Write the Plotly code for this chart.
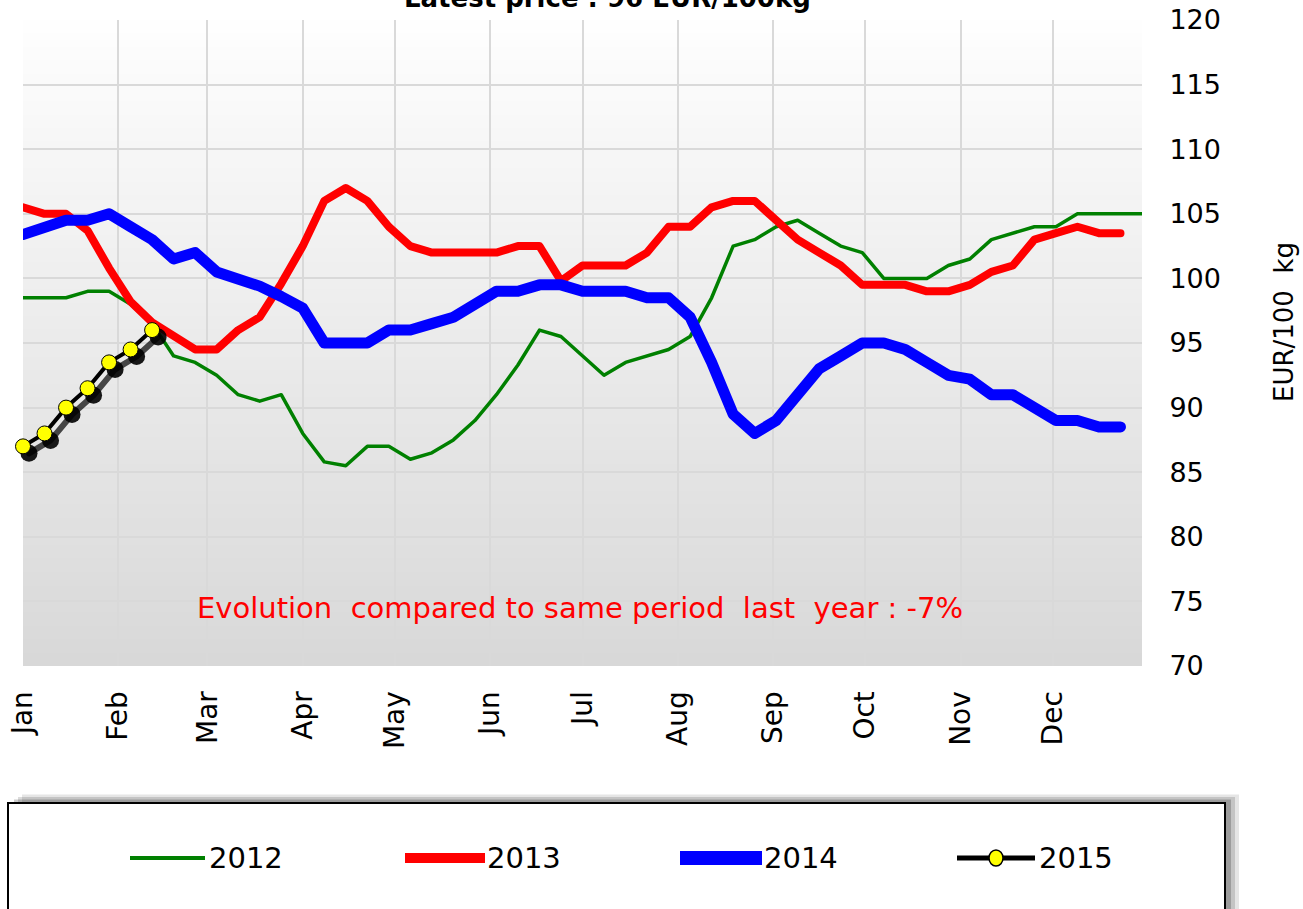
import plotly.graph_objects as go

# ---------------- data ----------------
v2012 = [98.5, 98.5, 98.5, 99, 99, 98, 96.5, 94, 93.5, 92.5, 91, 90.5, 91, 88, 85.8, 85.5, 87, 87, 86, 86.5,
         87.5, 89, 91, 93.3, 96, 95.5, 94, 92.5, 93.5, 94, 94.5, 95.5, 98.5, 102.5, 103, 104, 104.5, 103.5,
         102.5, 102, 100, 100, 100, 101, 101.5, 103, 103.5, 104, 104, 105, 105, 105, 105]
v2013 = [105.5, 105, 105, 103.7, 100.8, 98.2, 96.6, 95.5, 94.5, 94.5, 96, 97, 99.6, 102.5, 106, 107, 106, 104,
         102.5, 102, 102, 102, 102, 102.5, 102.5, 99.8, 101, 101, 101, 102, 104, 104, 105.5, 106, 106, 104.5,
         103, 102, 101, 99.5, 99.5, 99.5, 99, 99, 99.5, 100.5, 101, 103, 103.5, 104, 103.5, 103.5]
v2014 = [103.4, 104, 104.5, 104.5, 105, 104, 103, 101.5, 102, 100.5, 100, 99.4, 98.6, 97.7, 95, 95, 95, 96, 96,
         96.5, 97, 98, 99, 99, 99.5, 99.5, 99, 99, 99, 98.5, 98.5, 97, 93.5, 89.5, 88, 89, 91, 93, 94, 95, 95,
         94.5, 93.5, 92.5, 92.2, 91, 91, 90, 89, 89, 88.5, 88.5]
v2015 = [87, 88, 90, 91.5, 93.5, 94.5, 96]

month_labels = ["Jan", "Feb", "Mar", "Apr", "May", "Jun", "Jul", "Aug", "Sep", "Oct", "Nov", "Dec"]
month_days = [31, 29, 31, 30, 31, 30, 31, 31, 30, 31, 30, 31]
y_ticks = [70, 75, 80, 85, 90, 95, 100, 105, 110, 115, 120]

title_text = "Latest price : 96 EUR/100kg"
evolution_text = "Evolution  compared to same period  last  year : -7%"
y_title = "EUR/100  kg"
legend_names = ["2012", "2013", "2014", "2015"]

# month tick positions in weeks
month_ticks = []
acc = 0
for d in month_days:
    month_ticks.append(acc / 7.0)
    acc += d

FONT = "DejaVu Sans"
W, H = 1303, 909
ML, MR, MT, MB = 23, 161, 20, 243
PW = W - ML - MR
PH = H - MT - MB
XR = [0, 52]
YR = [70, 120]
pxx = PW / (XR[1] - XR[0])
pxy = PH / (YR[1] - YR[0])


def px2paper_x(px):
    return (px - ML) / PW


def px2paper_y(py):
    return (H - MB - py) / PH


fig = go.Figure()

fig.add_trace(go.Scatter(x=list(range(len(v2012))), y=v2012, mode="lines", name="2012",
                         line=dict(color="#008000", width=3.5), showlegend=False))
fig.add_trace(go.Scatter(x=list(range(len(v2013))), y=v2013, mode="lines", name="2013",
                         line=dict(color="#ff0000", width=8), showlegend=False))
fig.add_trace(go.Scatter(x=list(range(len(v2014))), y=v2014, mode="lines", name="2014",
                         line=dict(color="#0000ff", width=11), showlegend=False))
# shadow of 2015 (offset overlay axes)
fig.add_trace(go.Scatter(x=list(range(len(v2015))), y=v2015, mode="lines+markers", name="2015 shadow",
                         xaxis="x2", yaxis="y2", cliponaxis=False, hoverinfo="skip",
                         line=dict(color="rgba(0,0,0,0.7)", width=6),
                         marker=dict(size=17, color="rgba(0,0,0,0.9)", line=dict(width=0)),
                         showlegend=False))
fig.add_trace(go.Scatter(x=list(range(len(v2015))), y=v2015, mode="lines+markers", name="2015",
                         xaxis="x3", yaxis="y3", cliponaxis=False,
                         line=dict(color="#000000", width=4),
                         marker=dict(size=15, color="#ffff00", line=dict(color="#000000", width=1)),
                         showlegend=False))

shapes = []
# gradient background
N = 48
top = (254, 254, 254)
bot = (216, 216, 216)
for k in range(N):
    t = (k + 0.5) / N
    c = tuple(int(round(bot[j] + (top[j] - bot[j]) * t)) for j in range(3))
    shapes.append(dict(type="rect", xref="paper", yref="paper", x0=0, x1=1,
                       y0=k / N, y1=min(1, (k + 1) / N + 0.002),
                       fillcolor="rgb(%d,%d,%d)" % c, line=dict(width=0), layer="below"))

# legend box with shadow
lx0, lx1, ly0, ly1 = 8, 1225, 803, 920
for i, (off, op) in enumerate([(14, 0.10), (10, 0.14), (6, 0.20)]):
    shapes.append(dict(type="rect", xref="paper", yref="paper",
                       x0=px2paper_x(lx0 + off), x1=px2paper_x(lx1 + off),
                       y0=px2paper_y(ly0 - off * 0.6), y1=px2paper_y(ly1),
                       fillcolor="rgba(0,0,0,%.2f)" % op, line=dict(width=0), layer="above"))
shapes.append(dict(type="rect", xref="paper", yref="paper",
                   x0=px2paper_x(lx0), x1=px2paper_x(lx1), y0=px2paper_y(ly0), y1=px2paper_y(ly1),
                   fillcolor="white", line=dict(color="black", width=2), layer="above"))

ly = 858
leg_items = [
    (130, 205, "#008000", 4, 207),
    (405, 485, "#ff0000", 10, 485),
    (680, 762, "#0000ff", 14, 762),
    (957, 1035, "#000000", 5, 1037),
]
annotations = []
for (a, b, col, w, tx), name in zip(leg_items, legend_names):
    shapes.append(dict(type="line", xref="paper", yref="paper",
                       x0=px2paper_x(a), x1=px2paper_x(b), y0=px2paper_y(ly), y1=px2paper_y(ly),
                       line=dict(color=col, width=w), layer="above"))
    annotations.append(dict(text=name, xref="paper", yref="paper", x=px2paper_x(tx), y=px2paper_y(ly),
                            xanchor="left", yanchor="middle", showarrow=False,
                            font=dict(family=FONT, size=29, color="black")))
shapes.append(dict(type="circle", xref="paper", yref="paper",
                   x0=px2paper_x(989), x1=px2paper_x(1003), y0=px2paper_y(850), y1=px2paper_y(866),
                   fillcolor="#ffff00", line=dict(color="black", width=1.5), layer="above"))

annotations.append(dict(text="<b>%s</b>" % title_text, xref="paper", yref="paper",
                        x=px2paper_x(607), y=1, xanchor="center", yanchor="bottom", yshift=5,
                        showarrow=False, font=dict(family=FONT, size=26, color="black")))
annotations.append(dict(text=evolution_text.replace("  ", "\u00a0 "), xref="paper", yref="paper",
                        x=px2paper_x(580), y=px2paper_y(608), xanchor="center", yanchor="middle",
                        showarrow=False, font=dict(family=FONT, size=29, color="#ff0000")))
annotations.append(dict(text=y_title.replace("  ", "\u00a0 "), xref="paper", yref="paper",
                        x=px2paper_x(1284), y=px2paper_y(322), xanchor="center", yanchor="middle",
                        textangle=-90, showarrow=False, font=dict(family=FONT, size=26, color="black")))

grid = "#d9d9d9"
fig.update_layout(
    width=W, height=H,
    margin=dict(l=ML, r=MR, t=MT, b=MB, pad=0, autoexpand=False),
    paper_bgcolor="white", plot_bgcolor="rgba(0,0,0,0)",
    showlegend=False,
    shapes=shapes, annotations=annotations,
    font=dict(family=FONT, color="black"),
    xaxis=dict(range=XR, tickmode="array", tickvals=month_ticks, ticktext=month_labels,
               tickangle=-90, showgrid=True, gridcolor=grid, gridwidth=2, zeroline=False,
               showline=False, ticks="outside", ticklen=13, tickcolor="rgba(0,0,0,0)",
               automargin=False, tickfont=dict(family=FONT, size=28, color="black")),
    yaxis=dict(range=YR, side="right", tickmode="array", tickvals=y_ticks,
               showgrid=True, gridcolor=grid, gridwidth=2, zeroline=False, showline=False,
               ticks="outside", ticklen=21, tickcolor="rgba(0,0,0,0)",
               automargin=False, tickfont=dict(family=FONT, size=27, color="black")),
    xaxis2=dict(overlaying="x", range=[XR[0] - 6 / pxx, XR[1] - 6 / pxx], visible=False, automargin=False),
    yaxis2=dict(overlaying="y", range=[YR[0] + 7 / pxy, YR[1] + 7 / pxy], visible=False, automargin=False),
    xaxis3=dict(overlaying="x", range=XR, visible=False, automargin=False),
    yaxis3=dict(overlaying="y", range=YR, visible=False, automargin=False),
)

post = ("document.body.style.margin='0';document.body.style.overflow='hidden';"
        "document.documentElement.style.overflow='hidden';"
        "document.querySelectorAll('.scatterlayer .js-line').forEach(function(p){"
        "p.style.strokeLinejoin='round';p.style.strokeLinecap='round';});")
fig.write_html("out.html", post_script=post, config={"displayModeBar": False})
